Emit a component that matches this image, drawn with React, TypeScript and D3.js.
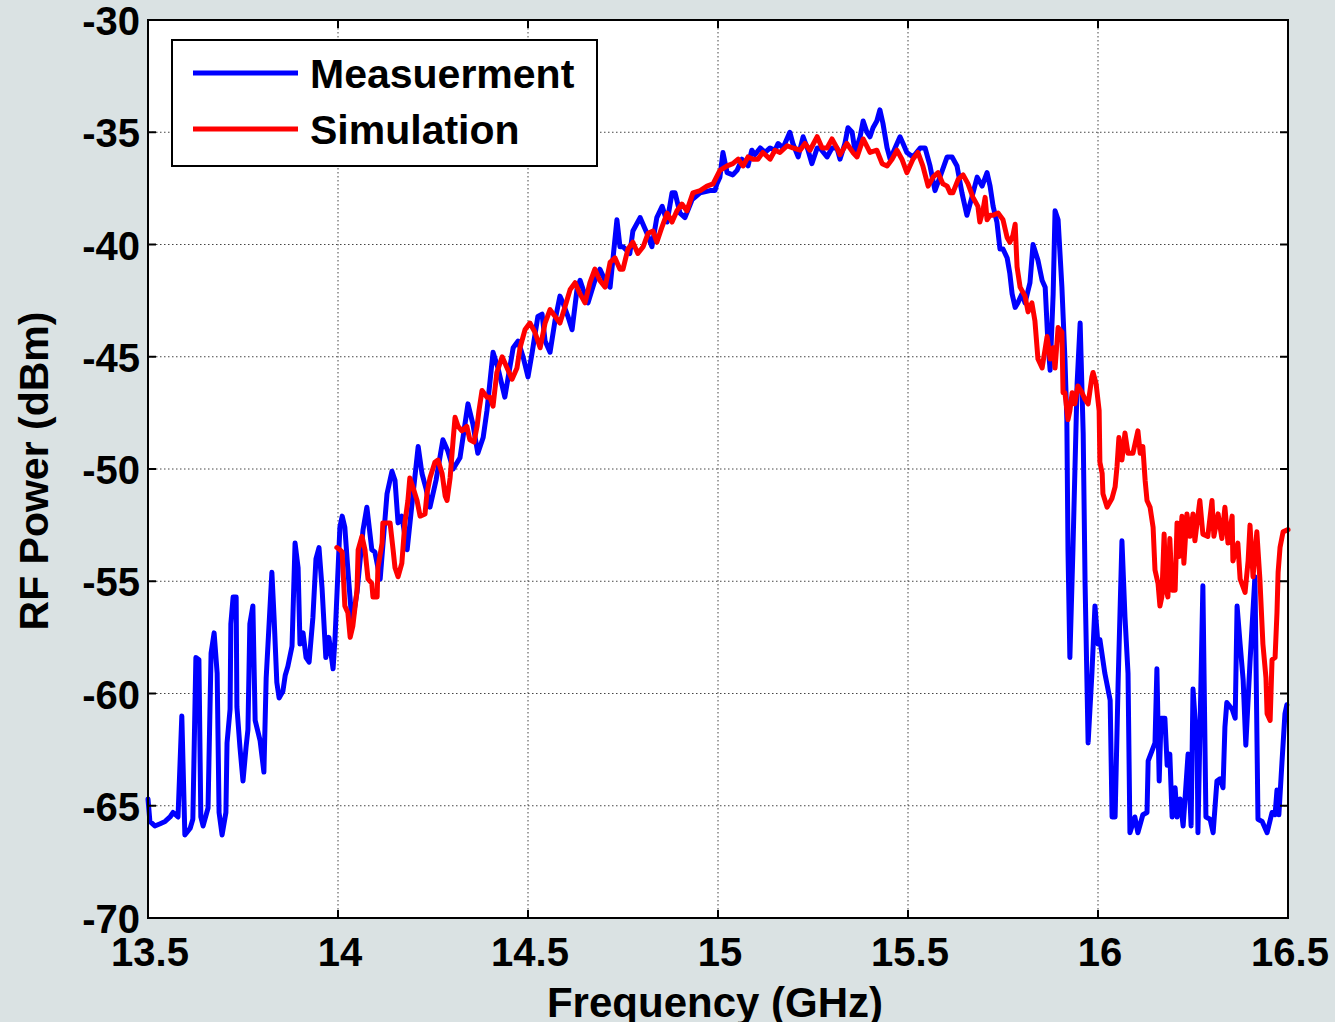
import React from "react";
import * as d3 from "d3";

// Measured RF power spectrum: [frequency GHz, power dBm]
const measurement: [number, number][] = [
  [13.5, -64.7], [13.505, -65.7], [13.518, -65.9], [13.532, -65.8], [13.545, -65.7], [13.558, -65.5],
  [13.566, -65.3], [13.579, -65.5], [13.589, -61.0], [13.597, -66.3], [13.611, -66.0], [13.618, -65.6],
  [13.626, -58.4], [13.634, -58.5], [13.639, -65.5], [13.645, -65.9], [13.658, -65.1], [13.666, -58.2],
  [13.674, -57.3], [13.682, -59.1], [13.687, -65.3], [13.695, -66.3], [13.705, -65.3], [13.708, -62.2],
  [13.716, -60.7], [13.718, -56.9], [13.724, -55.7], [13.732, -55.7], [13.734, -60.6], [13.742, -62.4],
  [13.75, -63.9], [13.758, -62.4], [13.763, -61.6], [13.768, -56.9], [13.776, -56.1], [13.782, -61.2],
  [13.795, -62.1], [13.805, -63.5], [13.811, -59.3], [13.826, -54.6], [13.832, -56.7], [13.839, -59.5],
  [13.845, -60.2], [13.855, -59.9], [13.861, -59.2], [13.868, -58.8], [13.879, -57.9], [13.887, -53.3],
  [13.895, -54.4], [13.9, -57.8], [13.908, -57.3], [13.916, -58.4], [13.924, -58.6], [13.934, -56.6],
  [13.942, -54.0], [13.95, -53.5], [13.958, -55.3], [13.968, -58.4], [13.976, -57.5], [13.987, -58.9],
  [13.992, -57.6], [14.005, -52.6], [14.011, -52.1], [14.018, -52.6], [14.026, -54.5], [14.037, -56.9],
  [14.05, -55.5], [14.066, -52.7], [14.076, -51.7], [14.089, -53.6], [14.097, -53.7], [14.111, -54.9],
  [14.129, -51.1], [14.142, -50.1], [14.15, -50.5], [14.158, -52.4], [14.168, -52.1], [14.182, -53.6],
  [14.195, -51.5], [14.211, -49.0], [14.221, -50.2], [14.232, -50.9], [14.242, -51.7], [14.258, -50.5],
  [14.276, -48.7], [14.289, -49.2], [14.303, -50.0], [14.321, -49.5], [14.342, -47.1], [14.355, -48.0],
  [14.368, -49.3], [14.382, -48.6], [14.392, -47.4], [14.408, -44.8], [14.421, -45.5], [14.439, -46.8],
  [14.461, -44.6], [14.474, -44.3], [14.487, -45.0], [14.5, -45.9], [14.511, -44.8], [14.526, -43.2],
  [14.537, -43.1], [14.545, -44.3], [14.558, -44.8], [14.571, -43.4], [14.584, -42.3], [14.592, -42.6],
  [14.605, -43.2], [14.616, -43.8], [14.629, -42.0], [14.637, -41.6], [14.645, -42.0], [14.658, -42.6],
  [14.676, -41.6], [14.689, -41.1], [14.703, -41.6], [14.716, -41.9], [14.734, -38.9], [14.742, -40.1],
  [14.75, -40.1], [14.768, -40.4], [14.776, -39.4], [14.795, -38.8], [14.813, -39.5], [14.826, -40.1],
  [14.839, -38.8], [14.853, -38.3], [14.866, -39.0], [14.879, -37.7], [14.887, -37.7], [14.9, -38.6],
  [14.913, -38.8], [14.932, -38.0], [14.953, -37.7], [14.979, -37.6], [14.992, -37.6], [14.997, -37.3],
  [15.005, -37.0], [15.013, -35.9], [15.024, -36.8], [15.039, -36.9], [15.05, -36.7], [15.063, -36.2],
  [15.079, -36.5], [15.089, -35.8], [15.097, -36.0], [15.111, -35.7], [15.124, -35.9], [15.137, -35.7],
  [15.15, -35.8], [15.158, -35.5], [15.171, -35.7], [15.189, -35.0], [15.197, -35.5], [15.211, -36.1],
  [15.224, -35.2], [15.237, -35.8], [15.247, -36.4], [15.261, -35.7], [15.268, -35.7], [15.287, -36.1],
  [15.3, -35.7], [15.313, -35.7], [15.321, -36.2], [15.334, -35.5], [15.342, -34.8], [15.353, -35.0],
  [15.361, -35.9], [15.374, -35.2], [15.382, -34.5], [15.392, -35.0], [15.4, -35.2], [15.408, -34.8],
  [15.418, -34.5], [15.426, -34.0], [15.434, -34.6], [15.445, -35.7], [15.453, -36.2], [15.466, -35.7],
  [15.479, -35.2], [15.487, -35.5], [15.497, -35.9], [15.513, -36.1], [15.532, -35.7], [15.545, -35.7],
  [15.558, -36.5], [15.571, -37.6], [15.584, -37.0], [15.603, -36.1], [15.616, -36.1], [15.629, -36.5],
  [15.642, -37.7], [15.655, -38.7], [15.668, -37.9], [15.682, -37.0], [15.695, -37.4], [15.708, -36.8],
  [15.716, -37.4], [15.724, -38.3], [15.734, -39.0], [15.742, -40.2], [15.75, -40.2], [15.761, -40.6],
  [15.768, -41.3], [15.774, -42.2], [15.782, -42.8], [15.789, -42.6], [15.8, -42.2], [15.808, -42.6],
  [15.821, -41.7], [15.829, -40.0], [15.842, -40.7], [15.853, -41.6], [15.861, -41.9], [15.868, -44.3],
  [15.874, -45.6], [15.882, -42.2], [15.887, -38.5], [15.895, -38.9], [15.905, -41.9], [15.913, -45.1],
  [15.918, -47.8], [15.921, -53.6], [15.926, -58.4], [15.934, -53.6], [15.945, -46.2], [15.953, -43.5],
  [15.961, -48.4], [15.966, -55.1], [15.974, -62.2], [15.984, -59.1], [15.992, -56.1], [16.0, -57.8],
  [16.005, -57.6], [16.018, -59.1], [16.032, -60.3], [16.037, -65.5], [16.045, -65.5], [16.053, -59.5],
  [16.063, -53.2], [16.071, -56.6], [16.079, -59.1], [16.084, -66.2], [16.097, -65.5], [16.105, -66.2],
  [16.118, -65.4], [16.129, -65.3], [16.132, -63.0], [16.15, -62.2], [16.155, -58.9], [16.161, -63.9],
  [16.166, -61.1], [16.176, -61.1], [16.182, -63.2], [16.189, -62.7], [16.195, -65.5], [16.203, -64.2],
  [16.208, -65.5], [16.216, -64.7], [16.224, -65.9], [16.229, -64.7], [16.237, -62.7], [16.245, -65.9],
  [16.25, -59.8], [16.261, -62.5], [16.263, -66.2], [16.276, -55.2], [16.284, -65.5], [16.295, -65.6],
  [16.303, -66.2], [16.313, -63.9], [16.321, -63.8], [16.329, -64.2], [16.334, -61.5], [16.339, -60.4],
  [16.353, -60.7], [16.361, -61.1], [16.366, -56.1], [16.374, -57.8], [16.382, -59.4], [16.389, -62.3],
  [16.4, -58.6], [16.413, -54.8], [16.421, -65.6], [16.432, -65.7], [16.445, -66.2], [16.458, -65.3],
  [16.466, -65.4], [16.471, -64.3], [16.476, -65.4], [16.484, -63.1], [16.492, -60.9], [16.497, -60.5],
];

// Simulated RF power spectrum: [frequency GHz, power dBm]
const simulation: [number, number][] = [
  [13.997, -53.5], [14.005, -53.6], [14.011, -53.7], [14.018, -56.1], [14.026, -56.4], [14.032, -57.5],
  [14.039, -57.0], [14.05, -55.4], [14.053, -53.6], [14.063, -53.0], [14.071, -53.6], [14.079, -54.9],
  [14.089, -55.1], [14.092, -55.7], [14.103, -55.7], [14.105, -54.4], [14.116, -53.3], [14.118, -52.4],
  [14.129, -52.4], [14.137, -52.4], [14.145, -53.6], [14.15, -54.4], [14.158, -54.8], [14.168, -54.2],
  [14.176, -52.4], [14.184, -51.4], [14.189, -50.4], [14.197, -50.8], [14.208, -51.4], [14.216, -52.1],
  [14.229, -52.0], [14.234, -51.1], [14.242, -50.4], [14.255, -49.7], [14.263, -49.6], [14.274, -50.2],
  [14.282, -51.2], [14.287, -51.4], [14.295, -50.4], [14.303, -48.7], [14.308, -47.7], [14.316, -48.1],
  [14.326, -48.3], [14.339, -48.1], [14.347, -48.7], [14.358, -48.8], [14.366, -48.1], [14.371, -47.4],
  [14.379, -46.5], [14.392, -46.8], [14.4, -46.8], [14.408, -47.2], [14.418, -45.7], [14.432, -45.0],
  [14.445, -45.5], [14.458, -46.0], [14.471, -45.5], [14.479, -44.6], [14.492, -43.8], [14.505, -43.5],
  [14.518, -43.9], [14.532, -44.6], [14.545, -43.5], [14.558, -42.9], [14.571, -43.2], [14.584, -43.5],
  [14.597, -42.8], [14.611, -42.0], [14.624, -41.7], [14.637, -42.2], [14.65, -42.6], [14.663, -41.7],
  [14.676, -41.1], [14.689, -41.6], [14.703, -41.9], [14.716, -40.8], [14.729, -40.6], [14.742, -41.1],
  [14.75, -41.1], [14.763, -40.2], [14.776, -39.9], [14.789, -40.4], [14.803, -40.1], [14.816, -39.5],
  [14.829, -39.4], [14.839, -39.9], [14.853, -39.2], [14.866, -38.6], [14.879, -39.0], [14.892, -38.5],
  [14.905, -38.2], [14.918, -38.5], [14.934, -37.7], [14.953, -37.6], [14.971, -37.4], [14.987, -37.3],
  [15.005, -36.7], [15.024, -36.5], [15.039, -36.4], [15.053, -36.2], [15.066, -36.5], [15.079, -36.1],
  [15.092, -36.2], [15.105, -36.2], [15.118, -35.9], [15.137, -36.2], [15.15, -35.8], [15.163, -35.9],
  [15.182, -35.6], [15.197, -35.7], [15.216, -35.8], [15.229, -35.5], [15.242, -35.8], [15.261, -35.2],
  [15.274, -35.7], [15.287, -35.7], [15.3, -35.3], [15.313, -35.7], [15.321, -36.0], [15.339, -35.5],
  [15.355, -35.9], [15.366, -36.1], [15.382, -35.3], [15.4, -35.9], [15.418, -35.8], [15.432, -36.4],
  [15.445, -36.5], [15.458, -36.2], [15.471, -35.8], [15.484, -36.2], [15.497, -36.8], [15.513, -36.2],
  [15.526, -35.9], [15.539, -36.5], [15.553, -37.4], [15.566, -37.0], [15.579, -36.8], [15.592, -37.3],
  [15.603, -37.4], [15.611, -37.7], [15.618, -37.7], [15.632, -37.1], [15.645, -36.9], [15.658, -37.3],
  [15.671, -37.9], [15.684, -38.3], [15.689, -39.0], [15.697, -38.5], [15.703, -37.9], [15.708, -38.9],
  [15.716, -38.7], [15.724, -38.7], [15.737, -38.6], [15.75, -38.9], [15.761, -39.7], [15.768, -39.9],
  [15.776, -39.6], [15.782, -39.1], [15.787, -41.0], [15.795, -41.9], [15.808, -42.3], [15.816, -43.0],
  [15.826, -42.6], [15.834, -43.4], [15.842, -45.1], [15.853, -45.5], [15.866, -44.1], [15.874, -45.1],
  [15.882, -44.6], [15.887, -45.5], [15.895, -43.7], [15.905, -43.9], [15.908, -46.6], [15.913, -46.6],
  [15.921, -47.8], [15.926, -47.4], [15.932, -46.6], [15.939, -47.1], [15.947, -46.3], [15.958, -46.6],
  [15.966, -46.9], [15.974, -47.1], [15.984, -45.9], [15.987, -45.7], [15.995, -46.2], [16.003, -47.4],
  [16.005, -49.7], [16.011, -50.2], [16.013, -51.1], [16.024, -51.7], [16.037, -51.3], [16.045, -50.8],
  [16.05, -49.9], [16.055, -48.6], [16.063, -49.6], [16.071, -48.4], [16.079, -49.3], [16.092, -49.3],
  [16.105, -48.3], [16.111, -49.3], [16.118, -49.0], [16.124, -50.5], [16.129, -51.4], [16.137, -51.7],
  [16.145, -52.6], [16.15, -54.5], [16.158, -55.1], [16.163, -56.1], [16.168, -55.7], [16.174, -52.9],
  [16.179, -55.4], [16.184, -55.7], [16.189, -53.1], [16.195, -55.4], [16.203, -55.4], [16.208, -52.4],
  [16.213, -53.9], [16.221, -52.1], [16.226, -54.2], [16.234, -52.0], [16.242, -53.0], [16.25, -52.0],
  [16.255, -53.2], [16.268, -51.4], [16.276, -52.9], [16.289, -53.0], [16.3, -51.4], [16.305, -53.0],
  [16.316, -52.0], [16.326, -53.1], [16.334, -51.7], [16.342, -53.3], [16.353, -52.1], [16.355, -54.1],
  [16.368, -53.3], [16.374, -54.9], [16.387, -55.5], [16.395, -54.1], [16.4, -52.5], [16.408, -54.8],
  [16.418, -52.8], [16.426, -54.9], [16.434, -57.8], [16.442, -59.3], [16.445, -60.9], [16.453, -61.2],
  [16.458, -58.5], [16.466, -58.4], [16.471, -56.4], [16.474, -54.6], [16.479, -53.5], [16.487, -52.8],
  [16.5, -52.7],
];

const xTicks = [13.5, 14, 14.5, 15, 15.5, 16, 16.5];
const yTicks = [-70, -65, -60, -55, -50, -45, -40, -35, -30];

const seriesNames = ["Measuerment", "Simulation"];
const seriesColors = ["#0000ff", "#ff0000"];

const W = 1335;
const H = 1022;
const plot = { left: 148, right: 1288, top: 20, bottom: 918 };
const FONT = "'Liberation Sans', Arial, Helvetica, sans-serif";

export default function App() {
  const x = d3.scaleLinear().domain([13.5, 16.5]).range([plot.left, plot.right]);
  const y = d3.scaleLinear().domain([-70, -30]).range([plot.bottom, plot.top]);
  const line = d3
    .line<[number, number]>()
    .x((d) => x(d[0]))
    .y((d) => y(d[1]));

  const tickLen = 8;

  return (
    <svg
      width={W}
      height={H}
      style={{ position: "absolute", left: 0, top: 0, display: "block" }}
      fontFamily={FONT}
      fontWeight="bold"
    >
      <rect x={0} y={0} width={W} height={H} fill="#dae2e3" />
      <rect
        x={plot.left}
        y={plot.top}
        width={plot.right - plot.left}
        height={plot.bottom - plot.top}
        fill="#ffffff"
      />

      {/* dotted grid */}
      <g stroke="#444" strokeWidth={1} strokeDasharray="1.5,2.5">
        {xTicks.slice(1, -1).map((t) => (
          <line key={"gx" + t} x1={x(t)} x2={x(t)} y1={plot.top} y2={plot.bottom} />
        ))}
        {yTicks.slice(1, -1).map((t) => (
          <line key={"gy" + t} x1={plot.left} x2={plot.right} y1={y(t)} y2={y(t)} />
        ))}
      </g>

      {/* data traces */}
      <g fill="none" strokeWidth={5} strokeLinejoin="round" strokeLinecap="round">
        <path d={line(measurement) || ""} stroke={seriesColors[0]} />
        <path d={line(simulation) || ""} stroke={seriesColors[1]} />
      </g>

      {/* inward tick marks on all four sides */}
      <g stroke="#000" strokeWidth={2}>
        {xTicks.map((t) => (
          <g key={"tx" + t}>
            <line x1={x(t)} x2={x(t)} y1={plot.bottom} y2={plot.bottom - tickLen} />
            <line x1={x(t)} x2={x(t)} y1={plot.top} y2={plot.top + tickLen} />
          </g>
        ))}
        {yTicks.map((t) => (
          <g key={"ty" + t}>
            <line x1={plot.left} x2={plot.left + tickLen} y1={y(t)} y2={y(t)} />
            <line x1={plot.right} x2={plot.right - tickLen} y1={y(t)} y2={y(t)} />
          </g>
        ))}
      </g>

      <rect
        x={plot.left}
        y={plot.top}
        width={plot.right - plot.left}
        height={plot.bottom - plot.top}
        fill="none"
        stroke="#000"
        strokeWidth={2}
      />

      {/* tick labels */}
      <g fontSize={40} fill="#000">
        {xTicks.map((t) => (
          <text key={"lx" + t} x={x(t) + 2} y={966} textAnchor="middle">
            {String(t)}
          </text>
        ))}
        {yTicks.map((t) => (
          <text key={"ly" + t} x={140} y={y(t) + 15} textAnchor="end">
            {String(t)}
          </text>
        ))}
      </g>

      {/* axis titles */}
      <text x={715} y={1017} fontSize={42} textAnchor="middle" fill="#000">
        Frequency (GHz)
      </text>
      <text
        transform="translate(48,471) rotate(-90)"
        fontSize={41}
        textAnchor="middle"
        fill="#000"
      >
        RF Power (dBm)
      </text>

      {/* legend */}
      <g>
        <rect x={172} y={40} width={425} height={126} fill="#fff" stroke="#000" strokeWidth={2} />
        {seriesNames.map((name, i) => (
          <g key={name}>
            <line
              x1={193}
              x2={298}
              y1={73 + i * 56}
              y2={73 + i * 56}
              stroke={seriesColors[i]}
              strokeWidth={5}
            />
            <text x={310} y={88 + i * 56} fontSize={41} fill="#000">
              {name}
            </text>
          </g>
        ))}
      </g>
    </svg>
  );
}
